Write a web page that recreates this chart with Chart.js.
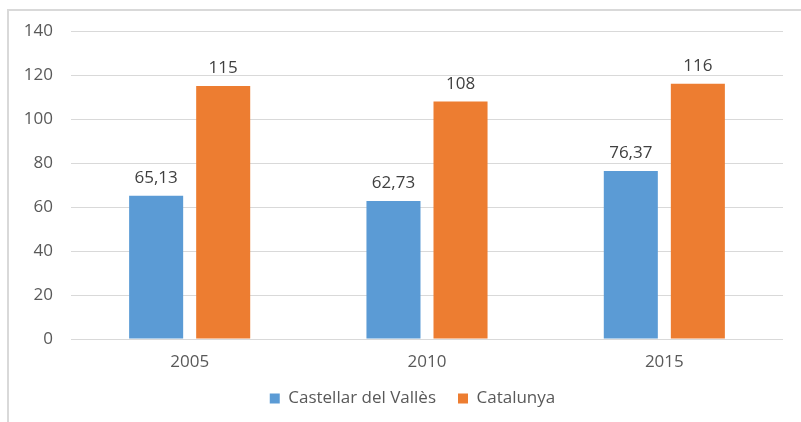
<!DOCTYPE html>
<html lang="ca">
<head>
  <meta charset="UTF-8">
  <title>Castellar del Vallès / Catalunya</title>
  <script src="https://cdn.jsdelivr.net/npm/chart.js"></script>
  <style>
    body {
      margin: 0;
      background: #fff;
      width: 801px;
      height: 422px;
      overflow: hidden;
      position: relative;
    }
    #frame {
      position: absolute;
      left: 7px;
      top: 9px;
      width: 800px;
      height: 420px;
      border-top: 2px solid #d9d9d9;
      border-left: 2px solid #d9d9d9;
    }
    #wrap {
      position: absolute;
      left: 0;
      top: 0;
      width: 801px;
      height: 422px;
    }
  </style>
</head>
<body>
  <div id="frame"></div>
  <div id="wrap"><canvas id="chart"></canvas></div>

<script>
const years = ['2005', '2010', '2015'];
const castellar = [65.13, 62.73, 76.37];
const catalunya = [115, 108, 116];
const yTicks = [0, 20, 40, 60, 80, 100, 120, 140];

const FONT = '"Open Sans", sans-serif';

function fmt(v) {
  return String(v).replace('.', ',');
}

// etiquetes de valor damunt de cada barra
const valueLabels = {
  id: 'valueLabels',
  afterDatasetsDraw(chart) {
    const ctx = chart.ctx;
    ctx.save();
    ctx.font = '17px ' + FONT;
    ctx.fillStyle = '#404040';
    ctx.textAlign = 'center';
    ctx.textBaseline = 'bottom';
    chart.data.datasets.forEach((ds, i) => {
      chart.getDatasetMeta(i).data.forEach((bar, j) => {
        ctx.fillText(fmt(ds.data[j]), bar.x, bar.y - 9);
      });
    });
    ctx.restore();
  }
};

// la llegenda va una mica desplaçada cap a la dreta
const shiftLegend = {
  id: 'shiftLegend',
  afterLayout(chart) {
    chart.legend.left += 21;
    chart.legend.right += 21;
  }
};

new Chart(document.getElementById('chart'), {
  type: 'bar',
  data: {
    labels: years,
    datasets: [
      { label: 'Castellar del Vallès', data: castellar, backgroundColor: '#5b9bd5' },
      { label: 'Catalunya', data: catalunya, backgroundColor: '#ed7d31' }
    ]
  },
  options: {
    responsive: true,
    maintainAspectRatio: false,
    animation: false,
    categoryPercentage: 0.565,
    barPercentage: 0.806,
    layout: { padding: { left: 0, right: 18, top: 31, bottom: 5 } },
    scales: {
      x: {
        grid: { display: false, drawTicks: false },
        border: { display: false },
        ticks: { color: '#595959', font: { family: FONT, size: 17 }, padding: 13 },
        afterFit(s) { s.height = 29; }
      },
      y: {
        min: 0,
        max: 140,
        afterBuildTicks(s) { s.ticks = yTicks.map(v => ({ value: v })); },
        grid: { color: '#d9d9d9', lineWidth: 1, drawTicks: false },
        border: { display: false },
        ticks: { color: '#595959', font: { family: FONT, size: 17 }, padding: 18 },
        afterFit(s) { s.width = 71; }
      }
    },
    plugins: {
      legend: {
        position: 'bottom',
        labels: {
          color: '#595959',
          font: { family: FONT, size: 17 },
          boxWidth: 10,
          boxHeight: 10,
          padding: 22
        }
      },
      tooltip: { enabled: false }
    }
  },
  plugins: [valueLabels, shiftLegend]
});
</script>
</body>
</html>
